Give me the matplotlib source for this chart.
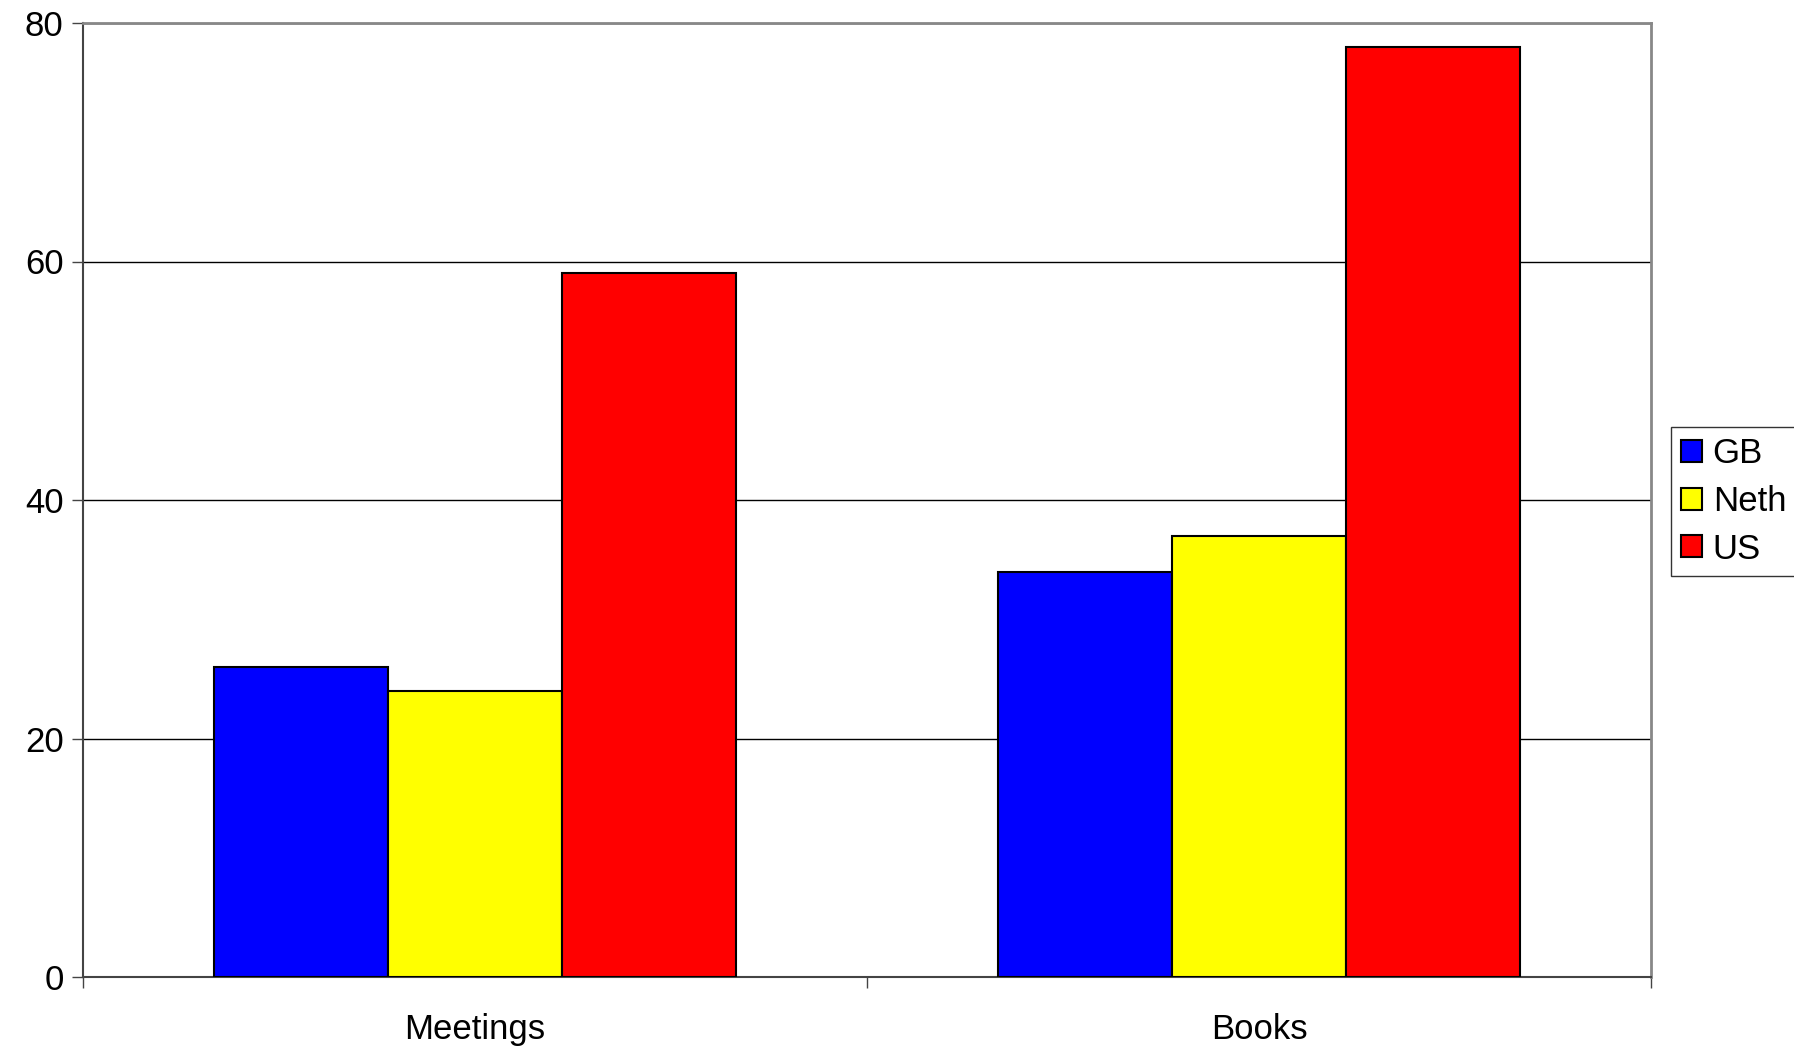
import matplotlib
matplotlib.use("Agg")
import matplotlib.pyplot as plt
import numpy as np

categories = ["Meetings", "Books"]
series_names = ["GB", "Neth", "US"]
gb = [26, 34]
neth = [24, 37]
us = [59, 78]
colors = ["#0000FF", "#FFFF00", "#FF0000"]
y_ticks = [0, 20, 40, 60, 80]

plt.rcParams["font.family"] = ["Liberation Sans", "DejaVu Sans"]

fig = plt.figure(figsize=(17.94, 10.49), dpi=100)
ax = fig.add_axes([83 / 1794, 1 - 977 / 1049, (1651 - 83) / 1794, (977 - 23) / 1049])

x = np.arange(len(categories))
width = 2 / 9
for i, (vals, name, col) in enumerate(zip([gb, neth, us], series_names, colors)):
    ax.bar(x + (i - 1) * width, vals, width, color=col, edgecolor="black",
           linewidth=1.5, label=name, zorder=3)

ax.set_xlim(-0.5, 1.5)
ax.set_ylim(0, 80)
ax.set_yticks(y_ticks)
ax.set_yticklabels([str(t) for t in y_ticks], fontsize=25)
ax.yaxis.grid(True, color="black", linewidth=1.0, zorder=0)

# category labels centred, tick marks at category boundaries
ax.set_xticks([-0.5, 0.5, 1.5])
ax.set_xticklabels([])
ax.set_xticks(x, minor=True)
ax.set_xticklabels(categories, minor=True, fontsize=25)
ax.tick_params(axis="x", which="minor", length=0, pad=26)
ax.tick_params(axis="x", which="major", length=8, width=1, color="#444444", direction="out")
ax.tick_params(axis="y", length=8, width=1, color="#444444", direction="out", pad=6)

for side in ["top", "right"]:
    ax.spines[side].set_color("#888888")
    ax.spines[side].set_linewidth(2)
for side in ["left", "bottom"]:
    ax.spines[side].set_color("#444444")
    ax.spines[side].set_linewidth(1.5)

leg = fig.legend(loc="upper left", bbox_to_anchor=(1671 / 1794, 1 - 427 / 1049),
                 fontsize=25, frameon=True, fancybox=False, edgecolor="black",
                 handlelength=0.6, handleheight=0.6, handletextpad=0.3,
                 borderpad=0.3, labelspacing=0.42, borderaxespad=0)
leg.get_frame().set_linewidth(1)

fig.savefig("out.png", dpi=100, facecolor="white")
